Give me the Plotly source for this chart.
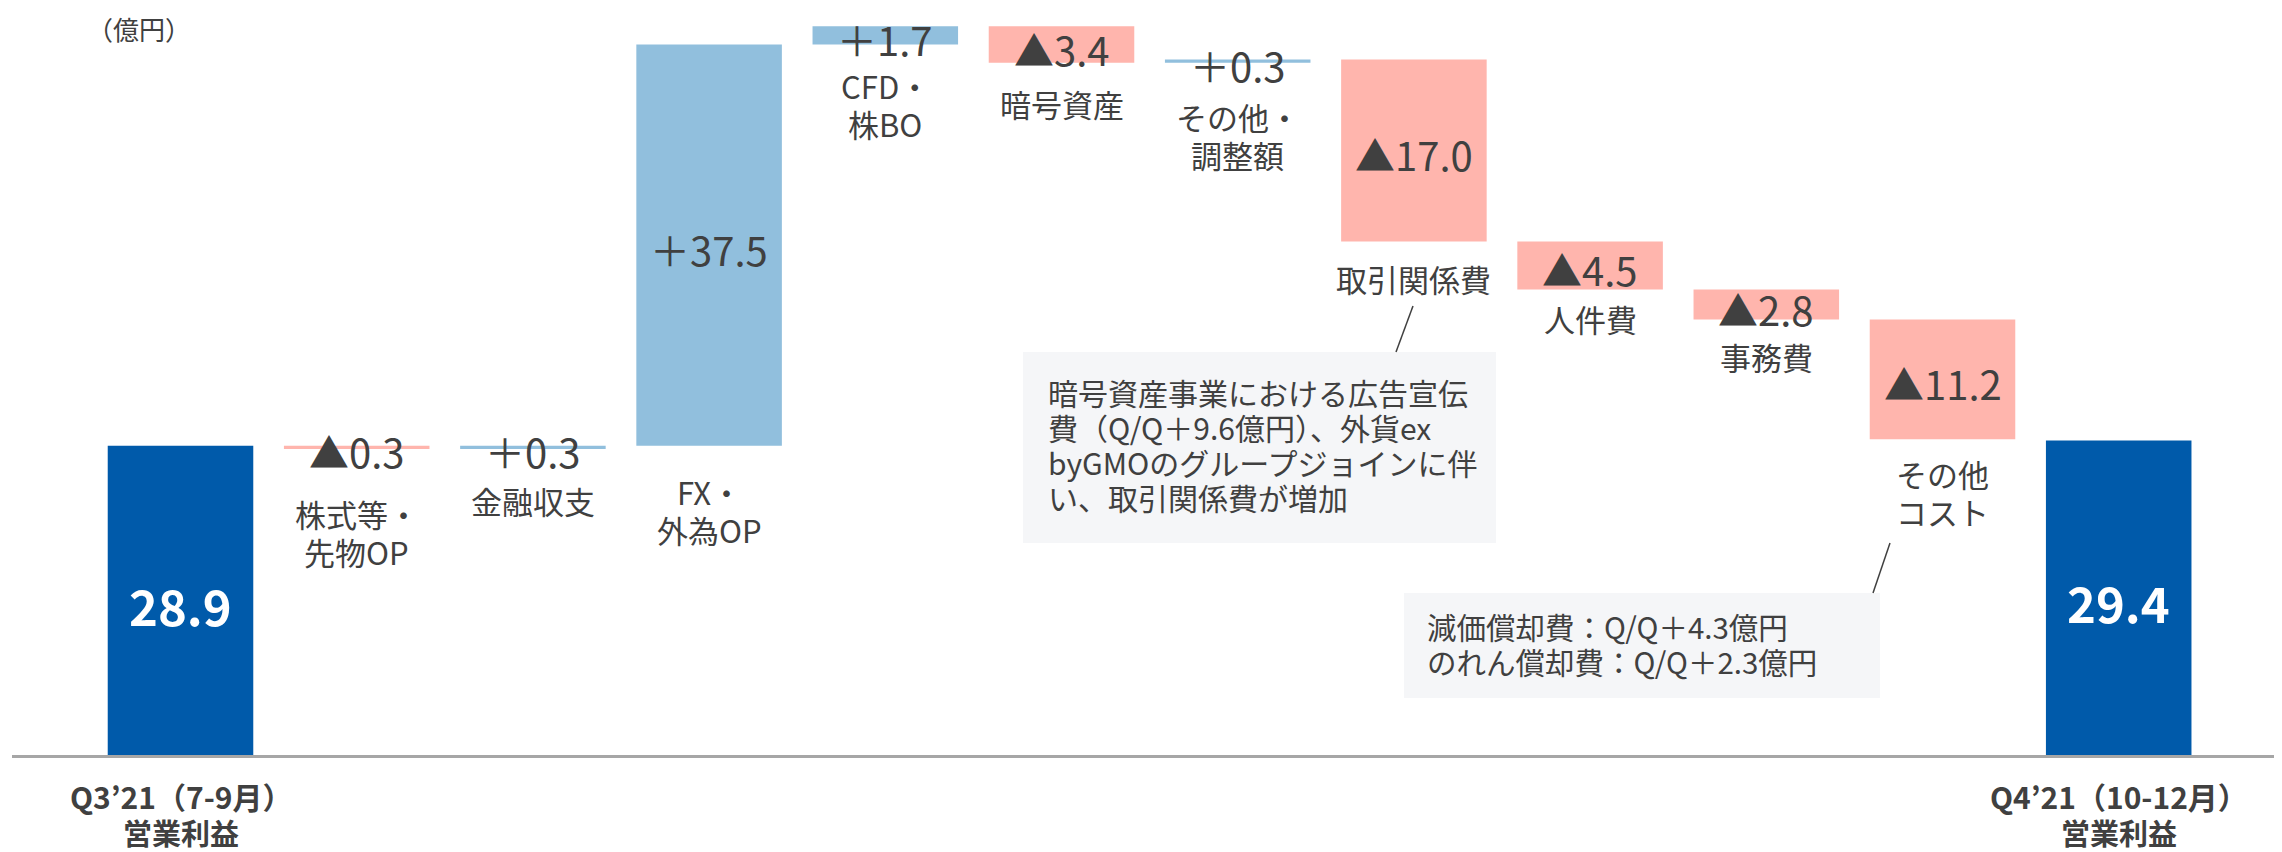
import plotly.graph_objects as go

# ---------------- data ----------------
categories = [
    "Q3’21（7-9月）<br>営業利益",
    "株式等・<br>先物OP",
    "金融収支",
    "FX・<br>外為OP",
    "CFD・<br>株BO",
    "暗号資産",
    "その他・<br>調整額",
    "取引関係費",
    "人件費",
    "事務費",
    "その他<br>コスト",
    "Q4’21（10-12月）<br>営業利益",
]
values = [28.9, -0.3, 0.3, 37.5, 1.7, -3.4, 0.3, -17.0, -4.5, -2.8, -11.2, 29.4]
measures = ["absolute"] + ["relative"] * 10 + ["absolute"]
value_labels = ["28.9", "▲0.3", "＋0.3", "＋37.5", "＋1.7", "▲3.4", "＋0.3",
                "▲17.0", "▲4.5", "▲2.8", "▲11.2", "29.4"]
unit_label = "（億円）"
note1 = "暗号資産事業における広告宣伝<br>費（Q/Q＋9.6億円）、外貨ex<br>byGMOのグループジョインに伴<br>い、取引関係費が増加"
note2 = "減価償却費：Q/Q＋4.3億円<br>のれん償却費：Q/Q＋2.3億円"

# ---------------- style ----------------
# the page body has an 8px margin, so the figure starts at page (8, 8)
OFF = 8
PAGE_W, PAGE_H = 2282, 852
PLOT_L, PLOT_R, PLOT_T, PLOT_B = 12, 2282, 8, 755   # plot area in page px
W, H = PAGE_W - OFF, PAGE_H - OFF
ML, MT = PLOT_L - OFF, PLOT_T - OFF
MR, MB = (OFF + W) - PLOT_R, (OFF + H) - PLOT_B
PW, PH = PLOT_R - PLOT_L, PLOT_B - PLOT_T
SCALE = 10.7                     # px per 億円
YMAX = PH / SCALE
CAT_W = 176.2                    # px per category
FIRST_C = 180.5                  # page x of first category centre
XR = [-(FIRST_C - PLOT_L) / CAT_W, -(FIRST_C - PLOT_L) / CAT_W + PW / CAT_W]

FONT = "Noto Sans CJK JP, Noto Sans, sans-serif"
TXT = "#404040"
C_TOTAL, C_UP, C_DOWN = "#005AAA", "#91BFDD", "#FFB5AD"
BOX = "#F5F6F8"
LINE_GAP = 38
# distance (px) from bar bottom to the centre of the first category-label line
label_dist = [41, 65, 52, 46, 41, 41, 54, 37, 29, 37, 34, 41]


def px(xp):
    return (xp - PLOT_L) / PW


def py(yp):
    return (PLOT_B - yp) / PH


# cumulative positions for labels
bases, tops = [], []
run = 0.0
for v, m in zip(values, measures):
    if m == "absolute":
        b, t = 0.0, v
        run = v
    else:
        b, t = run, run + v
        run = run + v
    bases.append(min(b, t))
    tops.append(max(b, t))

fig = go.Figure(go.Waterfall(
    x=categories, y=values, measure=measures,
    increasing=dict(marker=dict(color=C_UP)),
    decreasing=dict(marker=dict(color=C_DOWN)),
    totals=dict(marker=dict(color=C_TOTAL)),
    connector=dict(visible=False),
    hoverinfo="skip",
))

ann = []
for i, (c, lab) in enumerate(zip(categories, value_labels)):
    mid = (bases[i] + tops[i]) / 2
    is_total = measures[i] == "absolute"
    ann.append(dict(
        x=c, y=mid, xref="x", yref="y", text=("<b>%s</b>" % lab) if is_total else lab,
        showarrow=False, yanchor="middle", xanchor="center", yshift=-4,
        font=dict(family=FONT, size=49 if is_total else 40,
                  color="white" if is_total else TXT),
    ))
    lines = c.split("<br>")
    if is_total:
        gaps = [0, 36]
        for k, line in enumerate(lines):
            ann.append(dict(
                x=c, y=0, xref="x", yref="y", text="<b>%s</b>" % line,
                showarrow=False, yanchor="middle", xanchor="center", borderpad=0,
                yshift=-(label_dist[i] + gaps[k]),
                font=dict(family=FONT, size=30 if k == 0 else 29, color=TXT),
            ))
    else:
        for k, line in enumerate(lines):
            ann.append(dict(
                x=c, y=bases[i], xref="x", yref="y", text=line,
                showarrow=False, yanchor="middle", xanchor="center", borderpad=0,
                yshift=-(label_dist[i] + LINE_GAP * k),
                font=dict(family=FONT, size=31, color=TXT),
            ))

ann.append(dict(x=px(86), y=py(28), xref="paper", yref="paper", text=unit_label,
                showarrow=False, xanchor="left", yanchor="middle", borderpad=0,
                font=dict(family=FONT, size=26, color=TXT)))

for k, line in enumerate(note1.split("<br>")):
    ann.append(dict(x=px(1047), y=py(392 + 35 * k), xref="paper", yref="paper",
                    text=line, showarrow=False, xanchor="left", yanchor="middle",
                    borderpad=0, font=dict(family=FONT, size=30, color=TXT)))
for k, line in enumerate(note2.split("<br>")):
    ann.append(dict(x=px(1426), y=py(626 + 35 * k), xref="paper", yref="paper",
                    text=line, showarrow=False, xanchor="left", yanchor="middle",
                    borderpad=0, font=dict(family=FONT, size=29.5, color=TXT)))

shapes = [
    dict(type="rect", xref="paper", yref="paper", x0=px(1023), y0=py(543),
         x1=px(1496), y1=py(352), fillcolor=BOX, line=dict(width=0), layer="below"),
    dict(type="rect", xref="paper", yref="paper", x0=px(1404), y0=py(698),
         x1=px(1880), y1=py(593), fillcolor=BOX, line=dict(width=0), layer="below"),
    dict(type="line", xref="paper", yref="paper", x0=px(1396), y0=py(352),
         x1=px(1413), y1=py(306), line=dict(color=TXT, width=1.5)),
    dict(type="line", xref="paper", yref="paper", x0=px(1873), y0=py(593),
         x1=px(1890), y1=py(543), line=dict(color=TXT, width=1.5)),
]

fig.update_layout(
    width=W, height=H, margin=dict(l=ML, r=MR, t=MT, b=MB),
    paper_bgcolor="white", plot_bgcolor="white",
    waterfallgap=0.174, showlegend=False,
    annotations=ann, shapes=shapes,
    font=dict(family=FONT, color=TXT),
)
fig.update_xaxes(type="category", range=XR, showticklabels=False, ticks="",
                 showgrid=False, zeroline=False, showline=True,
                 linecolor="#A6A6A6", linewidth=3)
fig.update_yaxes(range=[0, YMAX], visible=False, showgrid=False, zeroline=False)

fig.write_html("out.html")
